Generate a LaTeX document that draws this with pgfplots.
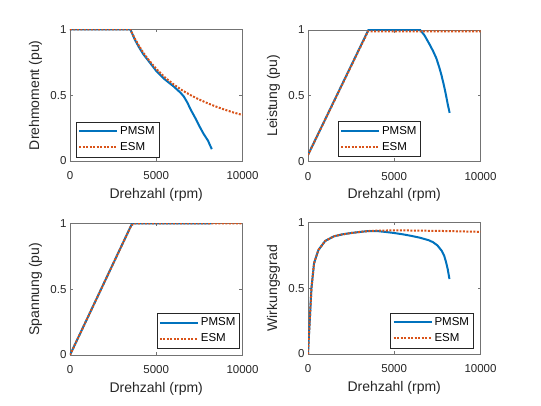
\documentclass[border=0pt]{standalone}
\usepackage{fontspec}
\setmainfont{Liberation Sans}
\usepackage{pgfplots}
\pgfplotsset{compat=1.18}
\definecolor{mblue}{RGB}{0,114,189}
\definecolor{morange}{RGB}{217,83,25}
\definecolor{axgray}{gray}{0.45}
\definecolor{txtgray}{gray}{0.15}
\pgfplotsset{
  mstyle/.style={
    scale only axis, width=172.5pt, height=131.5pt,
    xmin=0, xmax=10000, ymin=0, ymax=1,
    xtick={0,5000,10000}, ytick={0,0.5,1},
    scaled x ticks=false,
    /pgf/number format/assume math mode=true,
    xticklabel style={font=\fontsize{11.5}{12}\selectfont, text=txtgray, /pgf/number format/1000 sep={}, yshift=-7pt},
    yticklabel style={font=\fontsize{11.5}{12}\selectfont, text=txtgray},
    axis line style={axgray, line width=0.6pt},
    tick style={axgray, line width=0.6pt},
    tick align=inside, major tick length=3pt,
    xlabel={Drehzahl (rpm)},
    label style={font=\fontsize{14}{16}\selectfont, text=txtgray},
    xlabel style={at={(axis description cs:0.5,-0.255)}, anchor=center},
    ylabel style={at={(axis description cs:-0.2,0.5)}, anchor=center},
    legend style={font=\fontsize{11.5}{13}\selectfont, draw=txtgray, fill=white,
      inner xsep=2pt, inner ysep=2pt, row sep=1pt, text=black,
      nodes={inner xsep=2pt, inner ysep=2pt, text height=8.5pt, text depth=2.5pt}},
    legend cell align=left,
    legend image code/.code={\draw[#1] (0pt,0pt) -- (38pt,0pt);},
  },
  pm/.style={mblue, line width=2pt},
  es/.style={morange, line width=2pt, dash pattern=on 2pt off 1.5pt},
}
\begin{document}
\begin{tikzpicture}
\path[use as bounding box] (0,0) rectangle (541pt,406pt);
% top-left
\begin{axis}[mstyle, at={(70pt,245pt)}, anchor=south west,
  ylabel={Drehmoment (pu)},
  legend style={at={(0.035,0.03)}, anchor=south west}]
\addplot[pm] coordinates {(0,1) (3500,1) (3750,0.925) (4000,0.865) (4250,0.812) (4500,0.77) (5000,0.685) (5500,0.62) (6000,0.568) (6400,0.52) (6600,0.49) (6800,0.445) (7000,0.39) (7250,0.33) (7500,0.265) (7750,0.205) (8000,0.155) (8100,0.125) (8220,0.09)};
\addplot[es] coordinates {(0,1) (3500,1) (3750,0.933) (4000,0.875) (4250,0.824) (4500,0.778) (5000,0.7) (5500,0.636) (6000,0.583) (6500,0.538) (7000,0.5) (7500,0.467) (8000,0.438) (8500,0.412) (9000,0.389) (9500,0.368) (10000,0.35)};
\legend{PMSM,ESM}
\end{axis}
% top-right
\begin{axis}[mstyle, at={(308pt,244.5pt)}, anchor=south west,
  ylabel={Leistung (pu)},
  legend style={at={(0.173,0.035)}, anchor=south west}]
\addplot[pm] coordinates {(0,0.05) (3500,1) (6500,1) (6750,0.96) (7050,0.89) (7250,0.84) (7440,0.785) (7600,0.72) (7730,0.66) (7860,0.59) (7960,0.53) (8050,0.47) (8110,0.43) (8210,0.37)};
\addplot[es] coordinates {(0,0.05) (3480,0.99) (10000,0.99)};
\legend{PMSM,ESM}
\end{axis}
% bottom-left
\begin{axis}[mstyle, at={(70pt,51pt)}, anchor=south west,
  ylabel={Spannung (pu)},
  legend style={at={(0.983,0.05)}, anchor=south east}]
\addplot[pm] coordinates {(0,0) (3600,1) (8200,1)};
\addplot[es] coordinates {(0,0) (3550,0.985) (3700,1) (10000,1)};
\legend{PMSM,ESM}
\end{axis}
% bottom-right
\begin{axis}[mstyle, at={(308pt,52pt)}, anchor=south west,
  ylabel={Wirkungsgrad},
  legend style={at={(0.958,0.045)}, anchor=south east}]
\addplot[pm] coordinates {(0,0) (50,0.13) (100,0.25) (200,0.5) (350,0.69) (600,0.79) (1000,0.86) (1500,0.895) (2000,0.91) (2500,0.92) (3000,0.928) (3500,0.935) (4000,0.935) (4500,0.928) (5000,0.92) (5500,0.91) (6000,0.898) (6500,0.884) (7000,0.865) (7250,0.85) (7500,0.826) (7750,0.785) (7900,0.745) (8000,0.7) (8100,0.645) (8200,0.57)};
\addplot[es] coordinates {(0,0) (50,0.13) (100,0.25) (200,0.5) (350,0.69) (600,0.79) (1000,0.86) (1500,0.895) (2000,0.91) (2500,0.92) (3000,0.928) (3500,0.935) (4000,0.938) (5000,0.94) (6000,0.939) (7000,0.937) (8000,0.935) (9000,0.932) (10000,0.929)};
\legend{PMSM,ESM}
\end{axis}
\end{tikzpicture}
\end{document}
